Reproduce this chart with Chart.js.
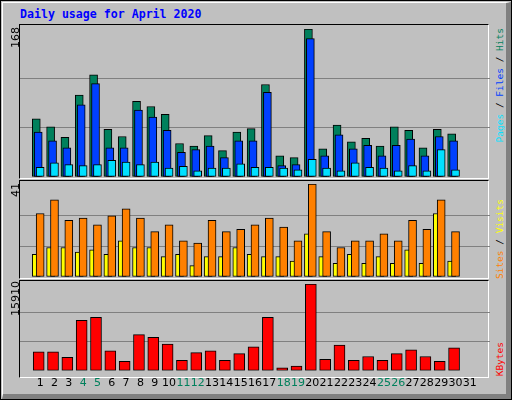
<!DOCTYPE html>
<html>
<head>
<meta charset="utf-8">
<title>Daily usage</title>
<script src="https://cdn.jsdelivr.net/npm/chart.js@4/dist/chart.umd.min.js"></script>
<style>
  body { margin: 0; background: #c0c0c0; }
  #page { position: absolute; left: 0; top: 0; width: 512px; height: 400px; box-sizing: border-box;
          border: 1px solid #000; background: #c0c0c0; overflow: hidden; }
  #inner { position: absolute; left: 1px; top: 1px; right: 0; bottom: 0;
           border-left: 1px solid #fff; border-top: 1px solid #fff;
           border-right: 5px solid #808080; border-bottom: 5px solid #808080; }
  .frame { position: absolute; left: 19px; width: 470px; box-sizing: border-box;
           border-left: 1px solid #000; border-top: 1px solid #000;
           border-right: 1px solid #fff; border-bottom: 1px solid #fff; }
  .box { position: absolute; }
  .v { position: absolute; writing-mode: vertical-rl; transform: rotate(180deg); white-space: nowrap; }
  .num { font: 11px "DejaVu Sans"; color: #000; left: 9px; }
  .leg { font: 9.5px "DejaVu Sans Mono"; left: 494px; }
  #title { position: absolute; left: 20px; top: 7px; font: bold 11.6px "DejaVu Sans Mono"; color: #0000ff; }
</style>
</head>
<body>
<div id="page"><div id="inner"></div></div>
<div id="title">Daily usage for April 2020</div>
<div class="frame" style="top:24px;height:155px"></div>
<div class="frame" style="top:180px;height:99px"></div>
<div class="frame" style="top:280px;height:98px"></div>

<div class="box" style="left:20px;top:29px;width:470px;height:148px"><canvas id="c1"></canvas></div>
<div class="box" style="left:20px;top:184px;width:470px;height:93px"><canvas id="c2"></canvas></div>
<div class="box" style="left:20px;top:284px;width:470px;height:112px"><canvas id="c3"></canvas></div>

<div class="v num" style="top:27px">168</div>
<div class="v num" style="top:183px">41</div>
<div class="v num" style="top:281px">15910</div>

<div class="v leg" style="top:28px"><span style="color:#00e0ff">Pages</span><span style="color:#000"> / </span><span style="color:#0040ff">Files</span><span style="color:#000"> / </span><span style="color:#00805c">Hits</span></div>
<div class="v leg" style="top:199px"><span style="color:#ff8000">Sites</span><span style="color:#000"> / </span><span style="color:#ffff00">Visits</span></div>
<div class="v leg" style="top:342px;color:#ff0000">KBytes</div>

<script>
const days = [1,2,3,4,5,6,7,8,9,10,11,12,13,14,15,16,17,18,19,20,21,22,23,24,25,26,27,28,29,30,31];
const weekends = [4,5,11,12,18,19,25,26];

const hits   = [66,57,45,93,116,54,46,86,80,71,38,35,47,30,51,55,105,24,22,168,32,59,40,44,35,57,53,33,54,49];
const files  = [51,41,33,82,106,33,33,76,68,53,28,31,35,22,41,41,96,13,14,157,24,48,32,36,24,36,43,24,46,41];
const pages  = [11,16,14,13,14,19,17,14,17,10,12,7,10,10,15,11,11,10,8,20,10,7,16,11,10,7,13,7,31,8];
const visits = [10,13,13,11,12,10,16,13,13,9,10,5,9,9,13,10,9,9,7,19,9,6,10,6,9,6,12,6,28,7];
const sites  = [28,34,25,26,23,27,30,26,20,23,16,15,25,20,21,23,26,22,16,41,20,13,16,16,19,16,25,21,34,20];
const kbytes = [3497,3497,2448,9267,9792,3672,1748,6644,6120,4896,1923,3322,3672,1923,3147,4371,9792,525,874,15910,2098,4721,1923,2623,1923,3147,3847,2623,1748,4196];

const U = 14.8; // px per day
// x axis placing day 1 centre at pixel c1 inside the 470px plot
function xAxis(c1, show) {
  const min = 1 - c1 / U;
  return {
    type: 'linear', display: !!show, min: min, max: min + 470 / U, bounds: 'data',
    grid: { display: false, drawTicks: false }, border: { display: false },
    afterBuildTicks: axis => { axis.ticks = days.map(d => ({ value: d })); },
    ticks: {
      display: !!show, autoSkip: false, maxRotation: 0, padding: 6,
      font: { family: 'DejaVu Sans', size: 11 },
      color: ctx => weekends.includes(Math.round(ctx.tick.value)) ? '#00805c' : '#000',
      callback: v => String(Math.round(v))
    }
  };
}
function yAxis(max) {
  return {
    display: true, min: 0, max: max,
    border: { display: false },
    grid: { drawTicks: false, lineWidth: 1,
      color: ctx => { const v = ctx.tick.value; return (v > 1e-6 && v < max - 1e-6) ? '#808080' : 'rgba(0,0,0,0)'; } },
    ticks: { display: false, stepSize: max / 3, includeBounds: false }
  };
}
function pts(arr) { return arr.map((v, i) => ({ x: days[i], y: v })); }
function ds(arr, color, axis, order, width) {
  return { data: pts(arr), backgroundColor: color, borderColor: '#000', borderWidth: 1, borderSkipped: false,
           xAxisID: axis, order: order, barThickness: width, grouped: false };
}
const base = { animation: false, responsive: true, maintainAspectRatio: false,
  layout: { padding: 0 }, plugins: { legend: { display: false }, tooltip: { enabled: false } } };

new Chart(document.getElementById('c1'), {
  type: 'bar',
  data: { datasets: [ ds(hits, '#00805c', 'xh', 3, 8), ds(files, '#0040ff', 'xf', 2, 8), ds(pages, '#00e0ff', 'xp', 1, 8) ] },
  options: Object.assign({}, base, { scales: { xh: xAxis(9), xf: xAxis(11), xp: xAxis(13), y: yAxis(168) } })
});
new Chart(document.getElementById('c2'), {
  type: 'bar',
  data: { datasets: [ ds(visits, '#ffff00', 'xv', 2, 8), ds(sites, '#ff8000', 'xs', 1, 8) ] },
  options: Object.assign({}, base, { scales: { xv: xAxis(9), xs: xAxis(13), y: yAxis(41) } })
});
new Chart(document.getElementById('c3'), {
  type: 'bar',
  data: { datasets: [ ds(kbytes, '#ff0000', 'xk', 1, 11) ] },
  options: Object.assign({}, base, { scales: { xk: xAxis(11.5), x: xAxis(13, true), y: yAxis(15910) } })
});
</script>
</body>
</html>
